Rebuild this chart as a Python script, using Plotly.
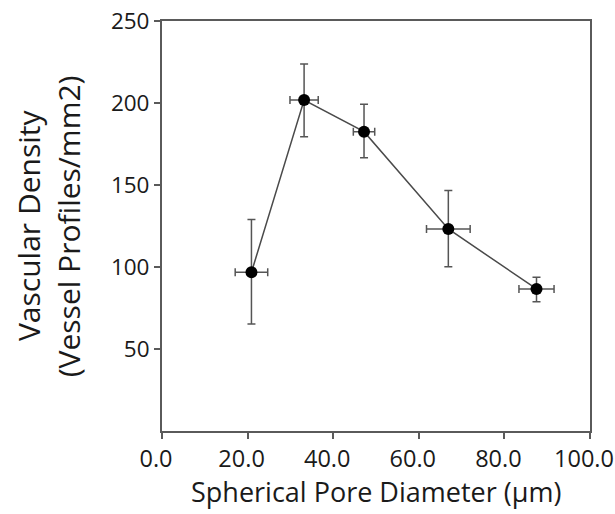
import plotly.graph_objects as go

# Pore diameter (um) vs vascular density (vessel profiles / mm2)
pore_diameter = [20.9, 33.2, 47.2, 66.9, 87.5]
diameter_err = [3.8, 3.3, 2.5, 5.1, 4.1]
vascular_density = [96.8, 201.8, 182.5, 123.2, 86.6]
density_err_plus = [32.2, 22.0, 16.7, 23.5, 7.1]
density_err_minus = [31.6, 22.4, 15.9, 23.0, 7.8]

x_ticks = [0, 20, 40, 60, 80, 100]
y_ticks = [50, 100, 150, 200, 250]

x_title = "Spherical Pore Diameter (\u03bcm)"
y_title_lines = ["Vascular Density", "(Vessel Profiles/mm2)"]

FONT = "Open Sans"
TEXT = "#1a1a1a"
AXIS_GREY = "#5a5a5a"

fig = go.Figure()
fig.add_trace(go.Scatter(
    x=pore_diameter,
    y=vascular_density,
    mode="lines+markers",
    line=dict(color="#4a4a4a", width=1.5),
    marker=dict(color="black", size=12),
    error_x=dict(type="data", array=diameter_err, color="#555555",
                 thickness=1.5, width=4),
    error_y=dict(type="data", array=density_err_plus,
                 arrayminus=density_err_minus, color="#555555",
                 thickness=1.5, width=4),
    showlegend=False,
))

axis_common = dict(
    automargin=False,
    showgrid=False,
    zeroline=False,
    showline=True,
    mirror=True,
    linecolor=AXIS_GREY,
    linewidth=2,
    ticks="outside",
    ticklen=6,
    tickwidth=1.5,
    tickcolor=AXIS_GREY,
    ticklabeloverflow="allow",
)

fig.update_layout(
    width=615,
    height=514,
    autosize=False,
    margin=dict(l=162, r=25, t=21, b=83, autoexpand=False),
    paper_bgcolor="white",
    plot_bgcolor="white",
    font=dict(family=FONT, color=TEXT),
    xaxis=dict(
        range=[0, 100],
        tickvals=x_ticks,
        tickformat=".1f",
        ticklabelshift=-6,
        tickfont=dict(size=23.5, family=FONT),
        **axis_common,
    ),
    yaxis=dict(
        range=[0, 250],
        tickvals=y_ticks,
        tickfont=dict(size=22.5, family=FONT),
        **axis_common,
    ),
    annotations=[
        dict(text=x_title, xref="paper", yref="paper",
             x=0.5, y=-0.198, xanchor="center", yanchor="bottom",
             showarrow=False, font=dict(size=27, family=FONT, color=TEXT)),
        dict(text=y_title_lines[0], textangle=-90, xref="paper", yref="paper",
             x=-0.313, y=0.5, xanchor="center", yanchor="middle",
             showarrow=False, font=dict(size=30, family=FONT, color=TEXT)),
        dict(text=y_title_lines[1], textangle=-90, xref="paper", yref="paper",
             x=-0.219, y=0.5, xanchor="center", yanchor="middle",
             showarrow=False, font=dict(size=30, family=FONT, color=TEXT)),
    ],
)

fig.write_html("out.html")
